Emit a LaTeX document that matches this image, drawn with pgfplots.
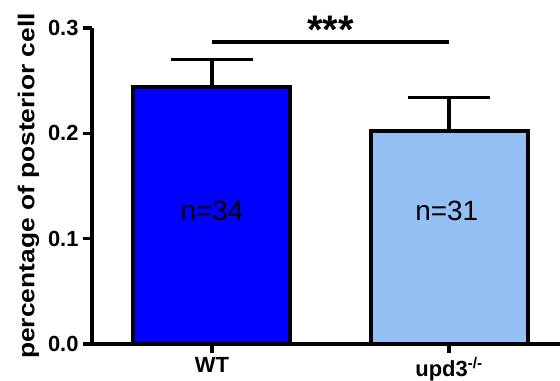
\documentclass[border=0pt]{standalone}
\usepackage{graphicx}
\usepackage{pgfplots}
\pgfplotsset{compat=1.18}
\usepackage{fontspec}
\setmainfont{Liberation Sans}
\definecolor{wtblue}{RGB}{0,0,255}
\definecolor{updblue}{RGB}{148,192,246}
\begin{document}
\begin{tikzpicture}
\path[use as bounding box] (0,0) rectangle (560bp,381bp);
\begin{axis}[
  at={(92bp,37bp)}, anchor=south west,
  scale only axis, width=468bp, height=316bp,
  xmin=-0.506, xmax=1.468, ymin=0, ymax=0.3,
  axis x line=bottom, axis y line=left,
  axis line style={-, line width=3.5bp, black},
  every tick/.style={line width=3.5bp, black},
  tick align=outside, major tick length=9bp,
  xtick={0,1}, xticklabels={WT, upd3\textsuperscript{-/-}},
  ytick={0,0.1,0.2,0.3},
  /pgf/number format/.cd, fixed, fixed zerofill, precision=1, assume math mode=true,
  /pgfplots/.cd,
  ticklabel style={font=\fontsize{22}{24}\selectfont\bfseries},
  y tick label style={xshift=-1bp},
  x tick label style={yshift=-1bp},
  ylabel={\scalebox{1.15}[1]{percentage of posterior cell}},
  ylabel style={font=\fontsize{23}{26}\selectfont\bfseries, yshift=2bp},
  clip=false,
  ybar, /pgf/bar shift=0pt, bar width=157bp,
]
\addplot[ybar, bar shift=0pt, fill=wtblue, draw=black, line width=4bp,
  error bars/.cd, y dir=plus, y explicit,
  error bar style={line width=3.5bp, black},
  error mark options={rotate=90, line width=3.5bp, mark size=41bp, black}]
  coordinates {(0,0.244) +- (0,0.026)};
\addplot[ybar, bar shift=0pt, fill=updblue, draw=black, line width=4bp,
  error bars/.cd, y dir=plus, y explicit,
  error bar style={line width=3.5bp, black},
  error mark options={rotate=90, line width=3.5bp, mark size=41bp, black}]
  coordinates {(1,0.202) +- (0,0.032)};
\addplot[sharp plot, line width=3.5bp, black, mark=none] coordinates {(0,0.2867) (1,0.2867)};
\node[font=\fontsize{40}{40}\selectfont\bfseries] at (axis cs:0.5,0.298) {***};
\node[font=\fontsize{28}{30}\selectfont] at (axis cs:0,0.126) {n=34};
\node[font=\fontsize{28}{30}\selectfont] at (axis cs:0.99,0.126) {n=31};
\end{axis}
\end{tikzpicture}
\end{document}
